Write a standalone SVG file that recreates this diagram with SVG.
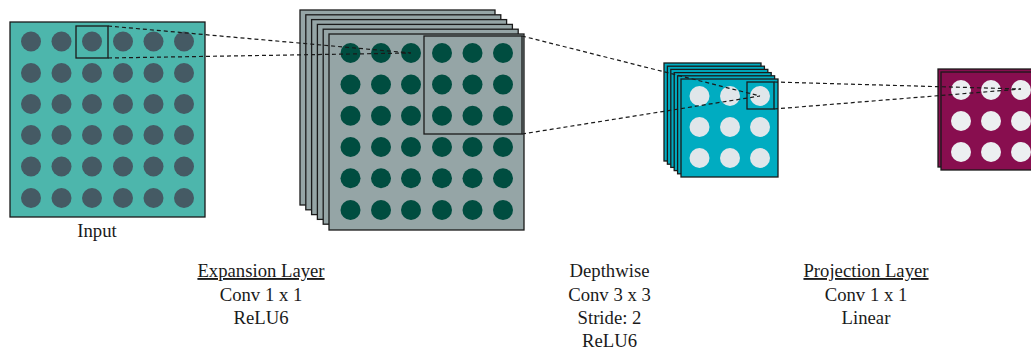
<svg xmlns="http://www.w3.org/2000/svg" width="1031" height="354" viewBox="0 0 1031 354">
<style>
.lay{stroke:#1a1a1a;stroke-width:1.3}
.in{fill:#4db6ac}
.ex{fill:#95a5a6}
.dw{fill:#00acc1}
.pr{fill:#880e4f}
.cin{fill:#455a64}
.cex{fill:#004d40}
.cdw{fill:#e0e6ea}
.cpr{fill:#eceff1}
.win{fill:none;stroke:#1a1a1a;stroke-width:1.3}
.dash{fill:none;stroke:#1a1a1a;stroke-width:1.2;stroke-dasharray:4 3}
text{font-family:"Liberation Serif","Times New Roman",serif;font-size:18.7px;fill:#1a1a1a;text-anchor:middle}
</style>
<rect width="1031" height="354" fill="#ffffff"/>
<g id="input">
<rect class="lay in" x="10" y="22" width="195" height="195"/>
<g class="cin">
<circle cx="31" cy="41.5" r="10"/><circle cx="61.5" cy="41.5" r="10"/><circle cx="92" cy="41.5" r="10"/><circle cx="123" cy="41.5" r="10"/><circle cx="153.5" cy="41.5" r="10"/><circle cx="184" cy="41.5" r="10"/>
<circle cx="31" cy="73" r="10"/><circle cx="61.5" cy="73" r="10"/><circle cx="92" cy="73" r="10"/><circle cx="123" cy="73" r="10"/><circle cx="153.5" cy="73" r="10"/><circle cx="184" cy="73" r="10"/>
<circle cx="31" cy="104" r="10"/><circle cx="61.5" cy="104" r="10"/><circle cx="92" cy="104" r="10"/><circle cx="123" cy="104" r="10"/><circle cx="153.5" cy="104" r="10"/><circle cx="184" cy="104" r="10"/>
<circle cx="31" cy="135" r="10"/><circle cx="61.5" cy="135" r="10"/><circle cx="92" cy="135" r="10"/><circle cx="123" cy="135" r="10"/><circle cx="153.5" cy="135" r="10"/><circle cx="184" cy="135" r="10"/>
<circle cx="31" cy="166.5" r="10"/><circle cx="61.5" cy="166.5" r="10"/><circle cx="92" cy="166.5" r="10"/><circle cx="123" cy="166.5" r="10"/><circle cx="153.5" cy="166.5" r="10"/><circle cx="184" cy="166.5" r="10"/>
<circle cx="31" cy="198" r="10"/><circle cx="61.5" cy="198" r="10"/><circle cx="92" cy="198" r="10"/><circle cx="123" cy="198" r="10"/><circle cx="153.5" cy="198" r="10"/><circle cx="184" cy="198" r="10"/>
</g>
<rect class="win" x="76" y="26" width="32" height="32"/>
<text x="97" y="237">Input</text>
</g>
<g id="expansion">
<rect class="lay ex" x="300" y="10" width="195" height="195"/>
<rect class="lay ex" x="305.8" y="14.8" width="195" height="195"/>
<rect class="lay ex" x="311.6" y="19.6" width="195" height="195"/>
<rect class="lay ex" x="317.4" y="24.4" width="195" height="195"/>
<rect class="lay ex" x="323.2" y="29.2" width="195" height="195"/>
<rect class="lay ex" x="329" y="34" width="195" height="196"/>
<g class="cex">
<circle cx="350.5" cy="53" r="10"/><circle cx="381" cy="53" r="10"/><circle cx="411" cy="53" r="10"/><circle cx="442" cy="53" r="10"/><circle cx="472.5" cy="53" r="10"/><circle cx="503" cy="53" r="10"/>
<circle cx="350.5" cy="84.5" r="10"/><circle cx="381" cy="84.5" r="10"/><circle cx="411" cy="84.5" r="10"/><circle cx="442" cy="84.5" r="10"/><circle cx="472.5" cy="84.5" r="10"/><circle cx="503" cy="84.5" r="10"/>
<circle cx="350.5" cy="115.7" r="10"/><circle cx="381" cy="115.7" r="10"/><circle cx="411" cy="115.7" r="10"/><circle cx="442" cy="115.7" r="10"/><circle cx="472.5" cy="115.7" r="10"/><circle cx="503" cy="115.7" r="10"/>
<circle cx="350.5" cy="147" r="10"/><circle cx="381" cy="147" r="10"/><circle cx="411" cy="147" r="10"/><circle cx="442" cy="147" r="10"/><circle cx="472.5" cy="147" r="10"/><circle cx="503" cy="147" r="10"/>
<circle cx="350.5" cy="178.3" r="10"/><circle cx="381" cy="178.3" r="10"/><circle cx="411" cy="178.3" r="10"/><circle cx="442" cy="178.3" r="10"/><circle cx="472.5" cy="178.3" r="10"/><circle cx="503" cy="178.3" r="10"/>
<circle cx="350.5" cy="210" r="10"/><circle cx="381" cy="210" r="10"/><circle cx="411" cy="210" r="10"/><circle cx="442" cy="210" r="10"/><circle cx="472.5" cy="210" r="10"/><circle cx="503" cy="210" r="10"/>
</g>
<rect class="win" x="424" y="36" width="98" height="98"/>
<text x="261" y="277" text-decoration="underline">Expansion Layer</text>
<text x="261" y="301">Conv 1 x 1</text>
<text x="261" y="324">ReLU6</text>
</g>
<g id="depthwise">
<rect class="lay dw" x="664" y="63" width="97" height="98"/>
<rect class="lay dw" x="667.4" y="66.2" width="97" height="98"/>
<rect class="lay dw" x="670.8" y="69.4" width="97" height="98"/>
<rect class="lay dw" x="674.2" y="72.6" width="97" height="98"/>
<rect class="lay dw" x="677.6" y="75.8" width="97" height="98"/>
<rect class="lay dw" x="681" y="79" width="97" height="98"/>
<g class="cdw">
<circle cx="699.5" cy="96" r="10"/><circle cx="730" cy="96" r="10"/><circle cx="760" cy="96" r="10"/>
<circle cx="699.5" cy="127" r="10"/><circle cx="730" cy="127" r="10"/><circle cx="760" cy="127" r="10"/>
<circle cx="699.5" cy="158" r="10"/><circle cx="730" cy="158" r="10"/><circle cx="760" cy="158" r="10"/>
</g>
<rect class="win" x="747" y="82" width="27" height="27"/>
<text x="609.5" y="277">Depthwise</text>
<text x="609.5" y="301">Conv 3 x 3</text>
<text x="609.5" y="324">Stride: 2</text>
<text x="609.5" y="347">ReLU6</text>
</g>
<g id="projection">
<rect class="lay pr" x="938" y="69" width="97" height="98"/>
<rect class="lay pr" x="941" y="72" width="97" height="98"/>
<g class="cpr">
<circle cx="961" cy="90" r="10"/><circle cx="991" cy="90" r="10"/><circle cx="1021" cy="90" r="10"/>
<circle cx="961" cy="121" r="10"/><circle cx="991" cy="121" r="10"/><circle cx="1021" cy="121" r="10"/>
<circle cx="961" cy="152" r="10"/><circle cx="991" cy="152" r="10"/><circle cx="1021" cy="152" r="10"/>
</g>
<text x="866" y="277" text-decoration="underline">Projection Layer</text>
<text x="866" y="301">Conv 1 x 1</text>
<text x="866" y="324">Linear</text>
</g>
<g id="connectors">
<line class="dash" x1="108" y1="26" x2="411" y2="53"/>
<line class="dash" x1="108" y1="58" x2="411" y2="53"/>
<line class="dash" x1="522" y1="36" x2="760" y2="96"/>
<line class="dash" x1="522" y1="134" x2="760" y2="96"/>
<line class="dash" x1="774" y1="82" x2="1021" y2="89"/>
<line class="dash" x1="774" y1="109" x2="1021" y2="89"/>
</g>
</svg>
